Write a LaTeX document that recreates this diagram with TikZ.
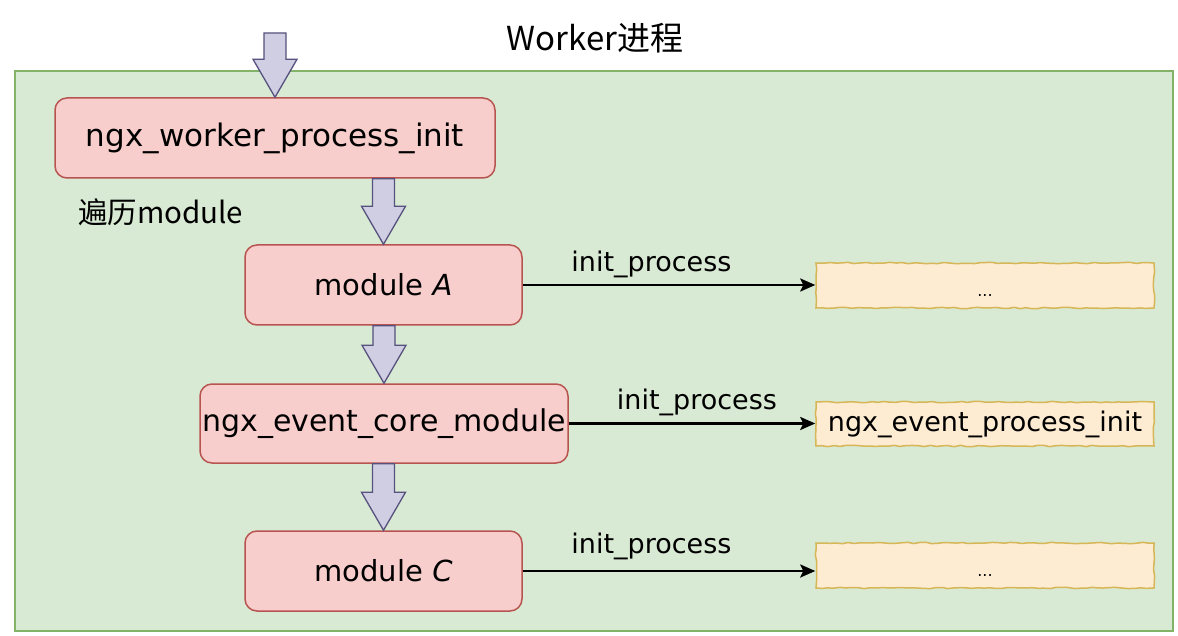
\documentclass[tikz,border=0pt]{standalone}
\usepackage{fontspec}
\setmainfont{DejaVu Sans}
\newfontfamily\cjk{Noto Sans CJK SC}
\usetikzlibrary{calc,arrows.meta,decorations.pathmorphing}
\definecolor{gfill}{HTML}{D8EAD3}
\definecolor{gdraw}{HTML}{82B366}
\definecolor{pfill}{HTML}{F8CECC}
\definecolor{pdraw}{HTML}{B85450}
\definecolor{afill}{HTML}{D0CEE2}
\definecolor{adraw}{HTML}{56517E}
\definecolor{yfill}{HTML}{FDEBD2}
\definecolor{ydraw}{HTML}{D6B656}
\newcommand\fatarrow[2]{%
  \path[fatarr] let \p1=#1, \p2=#2 in
  (\x2-11pt,\y1) -- (\x2+11pt,\y1) -- (\x2+11pt,\y2+38pt) -- (\x2+22pt,\y2+38pt)
  -- (\x2,\y2) -- (\x2-22pt,\y2+38pt) -- (\x2-11pt,\y2+38pt) -- cycle;}
\newcommand\lowdots{\smash{\raisebox{-11pt}{\fontsize{16}{18}\selectfont ...}}}
\tikzset{
  pbox/.style={draw=pdraw, fill=pfill, line width=1.5pt, rounded corners=12pt,
    inner sep=0pt, font=\fontsize{29}{34}\selectfont},
  ybox/.style={draw=ydraw, fill=yfill, line width=1.5pt, inner sep=0pt,
    decorate, decoration={random steps, segment length=6pt, amplitude=0.7pt},
    font=\fontsize{27}{32}\selectfont},
  fatarr/.style={draw=adraw, fill=afill, line width=1.3pt, line join=miter},
  conn/.style={line width=2.3pt, -{Stealth[length=15pt,width=13pt,inset=3pt]}},
  lbl/.style={font=\fontsize{27}{32}\selectfont, inner sep=0pt}
}
\begin{document}
\pgfmathsetseed{7}
\begin{tikzpicture}[x=1pt,y=-1pt]
  \fill[white] (0,0) rectangle (1178,636);
  \useasboundingbox (0,0) rectangle (1178,636);
  \node (title) at (595,38) {\cjk\fontsize{33}{38}\selectfont Worker进程};
  \draw[draw=gdraw, fill=gfill, line width=1.5pt] (15,71) rectangle (1173,631);
  \coordinate (top) at (275,33);
  \node[pbox, minimum width=440pt, minimum height=80pt, font=\fontsize{31}{36}\selectfont] (b1) at (275,138) {ngx\_worker\_process\_init};
  \node[pbox, minimum width=277pt, minimum height=80pt] (b2) at (383.5,285) {module \textit{A}};
  \node[pbox, minimum width=368pt, minimum height=79pt, font=\fontsize{30}{35}\selectfont] (b3) at (384,423.5) {ngx\_event\_core\_module};
  \node[pbox, minimum width=277pt, minimum height=80pt] (b4) at (383.5,571) {module \textit{C}};
  \node[anchor=west, inner sep=0pt] (trav) at (78,212) {\cjk\fontsize{29.5}{34}\selectfont 遍历module};
  \node[ybox, minimum width=338pt, minimum height=45pt] (y1) at (985,285.5) {\lowdots};
  \node[ybox, minimum width=338pt, minimum height=44pt] (y2) at (985,424) {ngx\_event\_process\_init};
  \node[ybox, minimum width=338pt, minimum height=45pt] (y3) at (985,565.5) {\lowdots};
  \fatarrow{(top)}{(b1.north)}
  \fatarrow{(b1.south)}{(b2.north)}
  \fatarrow{(b2.south)}{(b3.north)}
  \fatarrow{(b3.south)}{(b4.north)}
  \draw[conn] (b2.east) -- node[lbl, pos=0.44, yshift=21pt] (l1) {init\_process} (y1.west |- b2.east);
  \draw[conn] (b3.east) -- node[lbl, pos=0.52, yshift=21pt] (l2) {init\_process} (y2.west |- b3.east);
  \draw[conn] (b4.east) -- node[lbl, pos=0.44, yshift=25pt] (l3) {init\_process} (y3.west |- b4.east);
\end{tikzpicture}
\end{document}
